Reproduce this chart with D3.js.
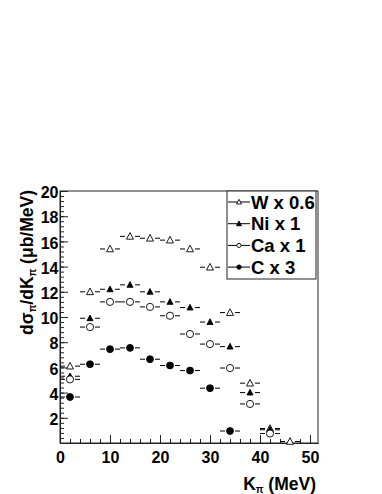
<!DOCTYPE html>
<html>
<head>
<meta charset="utf-8">
<script src="https://cdn.jsdelivr.net/npm/d3@7"></script>
<style>
  body { margin: 0; background: #fff; }
  text { font-family: "Liberation Sans", Arial, Helvetica, sans-serif; font-weight: bold; }
</style>
</head>
<body>
<div class="chart"></div>
<script>
var svgWidth = 382;
var svgHeight = 494;

// frame of the plot
var frame = { left: 60, right: 318, top: 191, bottom: 443 };

// pion kinetic energy bins (MeV)
var kpi = [2, 6, 10, 14, 18, 22, 26, 30, 34, 38, 42, 46];
var binHalf = 2;

// dsigma/dK values per target (already scaled)
var wVals  = [6.1, 12.0, 15.4, 16.4, 16.25, 16.1, 15.4, 13.95, 10.35, 4.75, 1.15, 0.12];
var niVals = [5.3, 9.9, 12.2, 12.55, 12.0, 11.2, 10.75, 9.6, 7.65, 4.0, 1.05, null];
var caVals = [5.05, 9.2, 11.2, 11.2, 10.8, 10.1, 8.65, 7.85, 5.95, 3.1, 0.75, null];
var cVals  = [3.65, 6.25, 7.45, 7.55, 6.65, 6.15, 5.75, 4.35, 0.95, null, null, null];

var seriesNames = ["W x 0.6", "Ni x 1", "Ca x 1", "C x 3"];
var seriesMarkers = ["openTri", "fillTri", "openCirc", "fillCirc"];
var seriesValues = [wVals, niVals, caVals, cVals];

var xTicks = [0, 10, 20, 30, 40, 50];
var yTicks = [2, 4, 6, 8, 10, 12, 14, 16, 18, 20];

var svg = d3.select(".chart")
  .append("svg")
  .attr("width", svgWidth)
  .attr("height", svgHeight);

var x = d3.scaleLinear().domain([0, 51.6]).range([frame.left, frame.right]);
var y = d3.scaleLinear().domain([0, 20]).range([frame.bottom, frame.top]);

// frame box
svg.append("rect")
  .attr("x", frame.left)
  .attr("y", frame.top)
  .attr("width", frame.right - frame.left)
  .attr("height", frame.bottom - frame.top)
  .attr("fill", "none")
  .attr("stroke", "#222")
  .attr("stroke-width", 1);

// x axis, ticks pointing inside
var xMinor = svg.append("g")
  .attr("transform", `translate(0, ${frame.bottom})`)
  .call(d3.axisBottom(x).tickValues(d3.range(0, 51, 2)).tickSize(-4).tickSizeOuter(0).tickFormat(""));
var xAxis = svg.append("g")
  .attr("transform", `translate(0, ${frame.bottom})`)
  .call(d3.axisBottom(x).tickValues(xTicks).tickSize(-8).tickSizeOuter(0).tickPadding(9));

// y axis
var yMinor = svg.append("g")
  .attr("transform", `translate(${frame.left}, 0)`)
  .call(d3.axisLeft(y).tickValues(d3.range(0, 20.01, 0.4)).tickSize(-4).tickSizeOuter(0).tickFormat(""));
var yAxis = svg.append("g")
  .attr("transform", `translate(${frame.left}, 0)`)
  .call(d3.axisLeft(y).tickValues(yTicks).tickSize(-8).tickSizeOuter(0).tickPadding(1.5));

svg.selectAll(".domain").attr("stroke", "#222");
svg.selectAll(".tick line").attr("stroke", "#222");
xAxis.selectAll("text").attr("font-size", "16px").attr("fill", "#000");
yAxis.selectAll("text").attr("font-size", "16px").attr("fill", "#000").attr("dy", "0.42em");

// axis titles
var xTitle = svg.append("text")
  .attr("x", 316)
  .attr("y", 490)
  .attr("text-anchor", "end")
  .attr("font-size", "17.5px");
xTitle.append("tspan").text("K");
xTitle.append("tspan").attr("font-size", "10px").attr("dy", 3).text("π");
xTitle.append("tspan").attr("dy", -3).text(" (MeV)");

var yTitle = svg.append("text")
  .attr("transform", "rotate(-90)")
  .attr("x", -frame.top + 1)
  .attr("y", 33)
  .attr("text-anchor", "end")
  .attr("font-size", "17.5px");
yTitle.append("tspan").text("dσ");
yTitle.append("tspan").attr("font-size", "10px").attr("dy", 3).text("π");
yTitle.append("tspan").attr("dy", -3).text("/dK");
yTitle.append("tspan").attr("font-size", "10px").attr("dy", 3).text("π");
yTitle.append("tspan").attr("dy", -3).text(" (μb/MeV)");

// marker drawing
function drawMarker(g, kind, cx, cy, s) {
  if (kind === "openTri" || kind === "fillTri") {
    var h = s * 0.9;
    g.append("path")
      .attr("d", `M${cx},${cy - h * 0.6}L${cx + s / 2},${cy + h * 0.45}L${cx - s / 2},${cy + h * 0.45}Z`)
      .attr("fill", kind === "fillTri" ? "#000" : "#fff")
      .attr("stroke", "#000")
      .attr("stroke-width", 0.9);
  } else {
    g.append("circle")
      .attr("cx", cx)
      .attr("cy", cy)
      .attr("r", kind === "fillCirc" ? s / 2 - 0.3 : s / 2 - 0.4)
      .attr("fill", kind === "fillCirc" ? "#000" : "#fff")
      .attr("stroke", "#000")
      .attr("stroke-width", 0.9);
  }
}

var plot = svg.append("g");

seriesValues.forEach(function(vals, si) {
  var kind = seriesMarkers[si];
  var size = kind === "openCirc" ? 8 : kind === "fillCirc" ? 7.5 : kind === "openTri" ? 7 : 6;
  var gap = 5;
  kpi.forEach(function(k, i) {
    var v = vals[i];
    if (v === null) return;
    var cx = x(k), cy = y(v);
    var x0 = x(k - binHalf), x1 = x(k + binHalf);
    plot.append("line")
      .attr("x1", x0).attr("x2", cx - gap)
      .attr("y1", cy).attr("y2", cy)
      .attr("stroke", "#000").attr("stroke-width", 1);
    plot.append("line")
      .attr("x1", cx + gap).attr("x2", x1)
      .attr("y1", cy).attr("y2", cy)
      .attr("stroke", "#000").attr("stroke-width", 1);
    drawMarker(plot, kind, cx, cy, size);
  });
});

// legend
var legend = svg.append("g");
legend.append("rect")
  .attr("x", 227)
  .attr("y", frame.top)
  .attr("width", 89)
  .attr("height", 88)
  .attr("fill", "#fff")
  .attr("stroke", "#222")
  .attr("stroke-width", 1);

seriesNames.forEach(function(name, i) {
  var ly = 202 + i * 21.7;
  legend.append("line")
    .attr("x1", 228).attr("x2", 250)
    .attr("y1", ly).attr("y2", ly)
    .attr("stroke", "#000").attr("stroke-width", 1);
  var kind = seriesMarkers[i];
  drawMarker(legend, kind, 239, ly, (kind === "openCirc" || kind === "fillCirc") ? 5 : 5);
  legend.append("text")
    .attr("x", 251)
    .attr("y", ly + 6.5)
    .attr("font-size", "18.5px")
    .text(name);
});
</script>
</body>
</html>
